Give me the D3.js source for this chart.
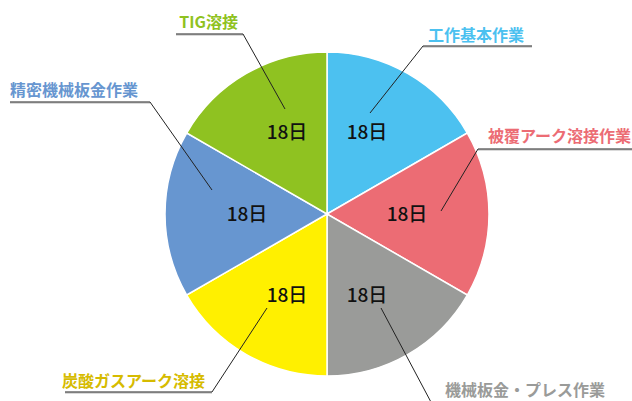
<!DOCTYPE html>
<html><head><meta charset="utf-8">
<script src="https://cdn.jsdelivr.net/npm/d3@7"></script>
<style>
html,body{margin:0;padding:0;background:#fff;}
svg{display:block;}
</style></head>
<body>
<svg id="chart" width="632" height="401"></svg>
<script>
const categories = ["工作基本作業","被覆アーク溶接作業","機械板金・プレス作業","炭酸ガスアーク溶接","精密機械板金作業","TIG溶接"];
const values = [18,18,18,18,18,18];
const valueLabels = ["18日","18日","18日","18日","18日","18日"];
const sliceColors = ["#4cc1f0","#ec6c74","#9a9b99","#fff000","#6796d0","#8fc221"];
const textColors = ["#4cc1f0","#ec6c74","#9a9b99","#d6bb00","#6796d0","#8fc221"];

const svg = d3.select("#chart");
const cx = 327, cy = 214, R = 162;
const g = svg.append("g").attr("transform", `translate(${cx},${cy})`);

const pie = d3.pie().sort(null).value(d => d)(values);
const arc = d3.arc().innerRadius(0).outerRadius(R);

g.selectAll("path.slice").data(pie).enter().append("path")
  .attr("class","slice")
  .attr("d", arc)
  .attr("fill", (d,i) => sliceColors[i])
  .attr("stroke", "#fff")
  .attr("stroke-width", 1.5);

// label layout (annotation positions relative to center)
const layout = [
  {inner:[43,-101], elbow:[96,-168], end:[205,-168], text:[101,-173], anchor:"start"},
  {inner:[114,-3],  elbow:[151,-65], end:[310,-65],  text:[161,-72],  anchor:"start"},
  {inner:[54,94],   elbow:[105,190], end:[280,190],  text:[118,182],  anchor:"start"},
  {inner:[-60,94],  elbow:[-115,178],end:[-262,178], text:[-122,173], anchor:"end"},
  {inner:[-115,-24],elbow:[-177,-112],end:[-317,-112],text:[-189,-118],anchor:"end"},
  {inner:[-42,-105],elbow:[-84,-180],end:[-151,-180],text:[-89,-186], anchor:"end"}
];

// value labels
const lx = 80, ly = 94;
g.selectAll("text.val").data(pie).enter().append("text")
  .attr("class","val")
  .attr("x", d => lx*Math.sin((d.startAngle+d.endAngle)/2))
  .attr("y", d => -ly*Math.cos((d.startAngle+d.endAngle)/2))
  .attr("dy","0.35em")
  .attr("text-anchor","middle")
  .attr("font-family","'Noto Sans CJK JP','Noto Sans',sans-serif")
  .attr("font-weight","500")
  .attr("font-size", 19)
  .attr("fill","#111")
  .text((d,i) => valueLabels[i]);

// leader lines
const lines = g.append("g");
layout.forEach((L,i) => {
  lines.append("line")
    .attr("x1",L.elbow[0]).attr("y1",L.elbow[1]+1)
    .attr("x2",L.end[0]).attr("y2",L.end[1]+1)
    .attr("stroke","#b5b5b5").attr("stroke-width",1.2);
  lines.append("line")
    .attr("x1",L.elbow[0]).attr("y1",L.elbow[1])
    .attr("x2",L.end[0]).attr("y2",L.end[1])
    .attr("stroke","#222").attr("stroke-width",1.1);
  lines.append("line")
    .attr("x1",L.inner[0]).attr("y1",L.inner[1])
    .attr("x2",L.elbow[0]).attr("y2",L.elbow[1])
    .attr("stroke","#222").attr("stroke-width",1);
  lines.append("text")
    .attr("x",L.text[0]).attr("y",L.text[1])
    .attr("text-anchor",L.anchor)
    .attr("font-family","'Noto Sans CJK JP','Noto Sans',sans-serif")
    .attr("font-weight","bold")
    .attr("font-size",16)
    .attr("fill",textColors[i])
    .text(categories[i]);
});
</script>
</body></html>
